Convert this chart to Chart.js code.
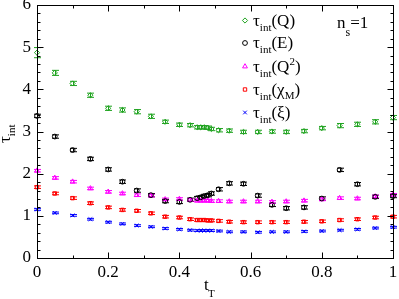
<!DOCTYPE html>
<html>
<head>
<meta charset="utf-8">
<script src="https://cdn.jsdelivr.net/npm/chart.js@4.4.0/dist/chart.umd.min.js"></script>
<style>
    html, body { margin: 0; padding: 0; background: #fff; }
    #wrap { width: 399px; height: 299px; }
</style>
</head>
<body>
<div id="wrap"><canvas id="tau_chart" width="399" height="299"></canvas></div>
<script>
//Shared x values (t_T) for every series
const tT = [0, 0.05, 0.1, 0.15, 0.2, 0.24, 0.28, 0.32, 0.36, 0.4, 0.43, 0.45, 0.46, 0.47,
    0.48, 0.49, 0.51, 0.54, 0.58, 0.62, 0.66, 0.7, 0.75, 0.8, 0.85, 0.9, 0.95, 1.0];

//tau_int values
const tauQ = [4.87, 4.39, 4.14, 3.86, 3.55, 3.51, 3.47, 3.36, 3.23, 3.16, 3.15, 3.10, 3.10, 3.10,
    3.09, 3.06, 3.03, 3.02, 2.99, 2.99, 3.00, 2.99, 3.01, 3.08, 3.14, 3.17, 3.23, 3.33];
const tauE = [3.37, 2.88, 2.56, 2.35, 2.10, 1.81, 1.60, 1.49, 1.35, 1.33, 1.38, 1.42, 1.44, 1.47,
    1.49, 1.53, 1.63, 1.77, 1.76, 1.48, 1.26, 1.18, 1.20, 1.41, 2.09, 1.75, 1.45, 1.47];
const tauQ2 = [2.07, 1.90, 1.81, 1.65, 1.57, 1.53, 1.49, 1.48, 1.39, 1.40, 1.38, 1.36, 1.36, 1.36,
    1.36, 1.35, 1.35, 1.34, 1.34, 1.34, 1.33, 1.34, 1.36, 1.39, 1.42, 1.41, 1.46, 1.50];
const tauChi = [1.68, 1.53, 1.42, 1.30, 1.20, 1.14, 1.12, 1.06, 0.98, 0.96, 0.92, 0.90, 0.90, 0.90,
    0.89, 0.89, 0.88, 0.86, 0.85, 0.85, 0.85, 0.85, 0.86, 0.87, 0.90, 0.92, 0.96, 0.98];
const tauXi = [1.15, 1.07, 1.01, 0.92, 0.85, 0.81, 0.77, 0.74, 0.70, 0.68, 0.66, 0.65, 0.65, 0.65,
    0.65, 0.65, 0.64, 0.62, 0.62, 0.61, 0.62, 0.62, 0.63, 0.64, 0.66, 0.68, 0.71, 0.73];

//Error bars (half widths)
const errQ = [0.12, 0.06, 0.05, 0.05, 0.05, 0.05, 0.05, 0.05, 0.04, 0.04, 0.04, 0.04, 0.04, 0.04,
    0.04, 0.04, 0.04, 0.04, 0.04, 0.04, 0.04, 0.04, 0.04, 0.04, 0.05, 0.05, 0.05, 0.05];
const errE = tT.map(() => 0.04);
const errQ2 = tT.map(() => 0.03);
const errChi = tT.map(() => 0.03);
const errXi = tT.map(() => 0.02);

//Axis tick values
const xMajor = [0, 0.2, 0.4, 0.6, 0.8, 1];
const yMajor = [0, 1, 2, 3, 4, 5, 6];

const serif = "'Liberation Serif', 'DejaVu Serif', serif";

const makeSet = (label, ys, errs, color, style, radius) => {
    /* Builds one scatter dataset with its error bars attached */
    return {
        label: label,
        data: tT.map((x, i) => ({x: x, y: ys[i]})),
        errors: errs,
        showLine: false,
        clip: false,
        pointStyle: style,
        pointRadius: radius,
        pointHoverRadius: radius,
        borderColor: color,
        backgroundColor: 'rgba(0,0,0,0)',
        pointBorderWidth: 1
    };
};

const datasets = [
    makeSet('Q', tauQ, errQ, '#1fa31f', 'rectRot', 2.6),
    makeSet('E', tauE, errE, '#000000', 'circle', 2.4),
    makeSet('Q2', tauQ2, errQ2, '#ff00ff', 'triangle', 2.8),
    makeSet('chi', tauChi, errChi, '#ff0000', 'rect', 2.4),
    makeSet('xi', tauXi, errXi, '#0000ff', 'crossRot', 2.6)
];

//Draws the error bars below the markers
const errorBars = {
    id: 'errorBars',
    beforeDatasetsDraw(chart) {
        const ctx = chart.ctx;
        const xs = chart.scales.x, ys = chart.scales.y;
        ctx.save();
        chart.data.datasets.forEach((ds) => {
            ctx.strokeStyle = ds.borderColor;
            ctx.lineWidth = 1;
            ds.data.forEach((p, i) => {
                const px = Math.round(xs.getPixelForValue(p.x)) + 0.5;
                const top = ys.getPixelForValue(p.y + ds.errors[i]);
                const bot = ys.getPixelForValue(p.y - ds.errors[i]);
                ctx.beginPath();
                ctx.moveTo(px, top); ctx.lineTo(px, bot);
                ctx.moveTo(px - 3.5, top); ctx.lineTo(px + 3.5, top);
                ctx.moveTo(px - 3.5, bot); ctx.lineTo(px + 3.5, bot);
                ctx.stroke();
            });
        });
        ctx.restore();
    }
};

//Frame, inward ticks, legend and titles with sub/superscripts
const decorations = {
    id: 'decorations',
    afterDraw(chart) {
        const ctx = chart.ctx;
        const a = chart.chartArea;
        const xs = chart.scales.x, ys = chart.scales.y;
        ctx.save();
        ctx.strokeStyle = '#000';
        ctx.lineWidth = 1;
        const L = Math.round(a.left) + 0.5, R = Math.round(a.right) + 0.5;
        const T = Math.round(a.top) + 0.5, B = Math.round(a.bottom) + 0.5;
        ctx.strokeRect(L, T, R - L, B - T);
        ctx.beginPath();
        for (let v = 0; v <= 10; v++) {
            const len = (v % 2 == 0) ? 6 : 3;
            const px = Math.round(xs.getPixelForValue(v / 10)) + 0.5;
            ctx.moveTo(px, B); ctx.lineTo(px, B - len);
            ctx.moveTo(px, T); ctx.lineTo(px, T + len);
        }
        for (let v = 0; v <= 30; v++) {
            const len = (v % 5 == 0) ? 6 : 3;
            const py = Math.round(ys.getPixelForValue(v / 5)) + 0.5;
            ctx.moveTo(L, py); ctx.lineTo(L + len, py);
            ctx.moveTo(R, py); ctx.lineTo(R - len, py);
        }
        ctx.stroke();

        //Legend
        const big = '17px ' + serif, small = '11px ' + serif;
        const parts = [
            [['(Q)', 0]],
            [['(E)', 0]],
            [['(Q', 0], ['2', -7], [')', 0]],
            [['(χ', 0], ['M', 4], [')', 0]],
            [['(ξ)', 0]]
        ];
        const rows = [20.5, 43, 66.5, 89.5, 112.5];
        chart.data.datasets.forEach((ds, i) => {
            ctx.strokeStyle = ds.borderColor;
            ctx.fillStyle = 'rgba(0,0,0,0)';
            ctx.lineWidth = 1;
            Chart.helpers.drawPoint(ctx, {
                pointStyle: ds.pointStyle, radius: ds.pointRadius, borderWidth: 1, rotation: 0
            }, 245, rows[i]);
            ctx.fillStyle = '#000';
            let x = 253;
            const base = rows[i] + 5;
            ctx.font = big;
            ctx.fillText('τ', x, base);
            x += ctx.measureText('τ').width;
            ctx.font = small;
            ctx.fillText('int', x, base + 5);
            x += ctx.measureText('int').width;
            parts[i].forEach(([txt, shift]) => {
                ctx.font = shift == 0 ? big : small;
                ctx.fillText(txt, x, base + shift);
                x += ctx.measureText(txt).width;
            });
        });

        //n_s = 1 label
        ctx.fillStyle = '#000';
        ctx.font = big;
        ctx.fillText('n', 337, 28);
        let nx = 337 + ctx.measureText('n').width;
        ctx.font = '12px ' + serif;
        ctx.fillText('s', nx, 36);
        nx += ctx.measureText('s').width;
        ctx.font = big;
        ctx.fillText('=1', nx, 28);

        //x title
        ctx.font = big;
        ctx.fillText('t', 204, 290);
        ctx.font = small;
        ctx.fillText('T', 208, 297);

        //y title, rotated
        ctx.translate(10, 143);
        ctx.rotate(-Math.PI / 2);
        ctx.font = big;
        ctx.fillText('τ', 0, 0);
        const tw = ctx.measureText('τ').width;
        ctx.font = small;
        ctx.fillText('int', tw, 5);
        ctx.restore();
    }
};

const plotChart = () => {
    /* Creates the scatter plot with fixed plot area */
    return new Chart('tau_chart', {
        type: 'scatter',
        data: {datasets: datasets},
        options: {
            responsive: false,
            animation: false,
            events: [],
            layout: {padding: {top: 5, right: 6, left: 0, bottom: 0}},
            plugins: {legend: {display: false}, tooltip: {enabled: false}},
            scales: {
                x: {
                    type: 'linear', min: 0, max: 1,
                    afterBuildTicks: (s) => { s.ticks = xMajor.map(v => ({value: v})); },
                    afterFit: (s) => { s.height = 41; s.paddingLeft = 0; s.paddingRight = 0; },
                    grid: {display: false, drawTicks: false},
                    border: {display: false},
                    ticks: {color: '#000', font: {family: serif, size: 17}, padding: 4, maxRotation: 0,
                        callback: (v) => String(+v.toFixed(1))}
                },
                y: {
                    type: 'linear', min: 0, max: 6,
                    afterBuildTicks: (s) => { s.ticks = yMajor.map(v => ({value: v})); },
                    afterFit: (s) => { s.width = 37; s.paddingTop = 0; s.paddingBottom = 0; },
                    grid: {display: false, drawTicks: false},
                    border: {display: false},
                    ticks: {color: '#000', font: {family: serif, size: 17}, padding: 6}
                }
            }
        },
        plugins: [errorBars, decorations]
    });
};

plotChart();
</script>
</body>
</html>
